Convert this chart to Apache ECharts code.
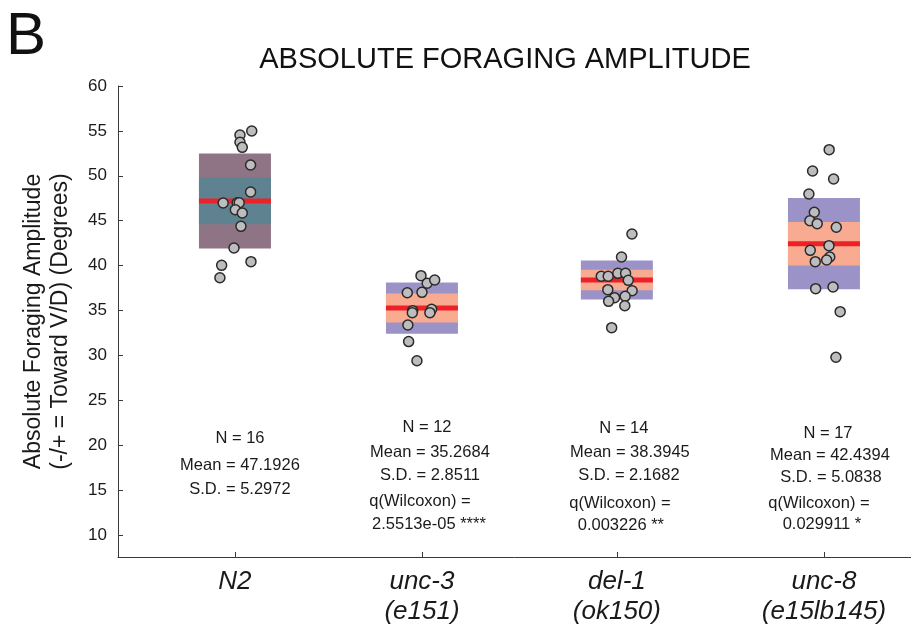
<!DOCTYPE html>
<html>
<head>
<meta charset="utf-8">
<script src="https://cdn.jsdelivr.net/npm/echarts@6/dist/echarts.min.js"></script>
<style>
  html, body { margin: 0; padding: 0; background: #ffffff; }
  #chart { width: 911px; height: 626px; }
</style>
</head>
<body>
<div id="chart"></div>
<script>
// ---- data ----
const strains = ['N2', 'unc-3', 'del-1', 'unc-8'];
const alleles = ['', '(e151)', '(ok150)', '(e15lb145)'];
const groupPos = [1, 1.969, 2.979, 4.052];

// per-animal amplitudes (degrees) and horizontal jitter (in group units)
const n2Values   = [54.99, 54.54, 53.73, 53.17, 51.2, 48.2, 46.97, 47.0, 47.0, 46.22, 45.86, 44.37, 41.96, 40.44, 40.03, 38.65];
const n2Jitter   = [0.087, 0.026, 0.026, 0.038, 0.081, 0.081, -0.061, 0.012, 0.022, 0.002, 0.038, 0.031, -0.005, 0.083, -0.069, -0.078];
const unc3Values = [38.88, 38.03, 38.4, 36.98, 37.02, 34.98, 34.76, 35.13, 34.76, 33.39, 31.54, 29.41];
const unc3Jitter = [-0.005, 0.027, 0.066, -0.076, 0, -0.048, -0.05, 0.05, 0.041, -0.073, -0.069, -0.026];
const del1Values = [43.52, 40.96, 38.81, 38.81, 39.14, 39.14, 38.36, 37.32, 37.2, 36.43, 36.58, 36.02, 35.53, 33.09];
const del1Jitter = [0.078, 0.024, -0.081, -0.045, 0.005, 0.045, 0.059, -0.047, 0.079, -0.012, 0.043, -0.043, 0.041, -0.027];
const unc8Values = [52.91, 50.53, 49.64, 47.97, 45.94, 45.0, 44.67, 44.27, 42.22, 41.7, 40.96, 40.62, 40.44, 37.43, 37.62, 34.87, 29.79];
const unc8Jitter = [0.027, -0.059, 0.05, -0.078, -0.05, -0.073, -0.035, 0.064, 0.026, -0.071, 0.03, 0.014, -0.045, -0.043, 0.047, 0.084, 0.062];

// summary statistics
const statN    = [16, 12, 14, 17];
const statMean = [47.1926, 35.2684, 38.3945, 42.4394];
const statSD   = [5.2972, 2.8511, 2.1682, 5.0838];
const qValues  = [null, '2.5513e-05 ****', '0.003226 **', '0.029911 *'];

const yTicks = [10, 15, 20, 25, 30, 35, 40, 45, 50, 55, 60];

// ---- layout / style ----
const FONT = '"Liberation Sans", Arial, Helvetica, sans-serif';
const BOX_HALF = 0.1865;
const outerColors = ['#8f7485', '#9b93c7', '#9b93c7', '#9b93c7'];
const innerColors = ['#5e8290', '#f8ab90', '#f8ab90', '#f8ab90'];

const allValues = [n2Values, unc3Values, del1Values, unc8Values];
const allJitter = [n2Jitter, unc3Jitter, del1Jitter, unc8Jitter];

const pointData = [];
allValues.forEach((vals, g) => {
  vals.forEach((v, k) => pointData.push([groupPos[g] + allJitter[g][k], v]));
});

// outer band = mean ± SD, inner band = mean ± 1.96·SEM
const boxData = strains.map((s, i) => [
  groupPos[i], statMean[i], statSD[i], 1.96 * statSD[i] / Math.sqrt(statN[i]), i
]);

// annotation lines: [group position, y (axis units), pixel x shift, text]
const annotY = [
  [20.8, 17.8, 15.12],
  [22.03, 19.24, 16.68, 13.68, 11.22],
  [21.92, 19.24, 16.68, 13.56, 11.1],
  [21.36, 18.91, 16.46, 13.56, 11.22]
];
const annotDx = [
  [5, 5, 5],
  [5, 8, 8, -2, 7],
  [7, 13, 12, 3, 4],
  [4, 6, 7, -5, -2]
];
const annotData = [];
strains.forEach((s, g) => {
  const lines = [
    'N = ' + statN[g],
    'Mean = ' + statMean[g].toFixed(4),
    'S.D. = ' + statSD[g].toFixed(4)
  ];
  if (qValues[g]) { lines.push('q(Wilcoxon) ='); lines.push(qValues[g]); }
  lines.forEach((t, k) => annotData.push([groupPos[g], annotY[g][k], annotDx[g][k], t]));
});

const chart = echarts.init(document.getElementById('chart'));

chart.setOption({
  animation: false,
  backgroundColor: '#ffffff',
  textStyle: { fontFamily: FONT },
  graphic: [
    { type: 'text', x: 6, y: 37, style: { text: 'B', font: '60px ' + FONT, fill: '#111', verticalAlign: 'middle' } },
    { type: 'text', x: 505, y: 60, style: { text: 'ABSOLUTE FORAGING AMPLITUDE', font: '29px ' + FONT, fill: '#111', align: 'center', verticalAlign: 'middle' } }
  ],
  grid: { left: 118, right: 0, top: 86, bottom: 69 },
  xAxis: {
    type: 'value',
    min: 0.394,
    max: 4.503,
    splitLine: { show: false },
    axisLine: { show: true, lineStyle: { color: '#3a3a3a', width: 1 } },
    axisTick: { show: true, inside: true, length: 5, customValues: groupPos, lineStyle: { color: '#3a3a3a' } },
    axisLabel: {
      customValues: groupPos,
      margin: 10,
      formatter: function (v) {
        const i = groupPos.findIndex(p => Math.abs(p - v) < 1e-6);
        if (i < 0) return '';
        return '{s|' + strains[i] + '}' + (alleles[i] ? '\n{s|' + alleles[i] + '}' : '');
      },
      rich: { s: { fontStyle: 'italic', fontSize: 26, lineHeight: 30, color: '#1a1a1a', fontFamily: FONT } }
    }
  },
  yAxis: {
    type: 'value',
    min: 7.55,
    max: 60,
    name: 'Absolute Foraging Amplitude\n(-/+ = Toward V/D) (Degrees)',
    nameLocation: 'middle',
    nameGap: 44,
    nameRotate: 90,
    nameTextStyle: { fontSize: 23, lineHeight: 27, color: '#1a1a1a', fontFamily: FONT },
    splitLine: { show: false },
    axisLine: { show: true, lineStyle: { color: '#3a3a3a', width: 1 } },
    axisTick: { show: true, inside: true, length: 5, customValues: yTicks, lineStyle: { color: '#3a3a3a' } },
    axisLabel: { customValues: yTicks, margin: 11, fontSize: 17, color: '#1a1a1a', fontFamily: FONT }
  },
  series: [
    {
      type: 'custom',
      name: 'summary',
      data: boxData,
      z: 2,
      renderItem: function (params, api) {
        const x = api.value(0), m = api.value(1), sd = api.value(2), ci = api.value(3), i = api.value(4);
        const oTL = api.coord([x - BOX_HALF, m + sd]);
        const oBR = api.coord([x + BOX_HALF, m - sd]);
        const iTL = api.coord([x - BOX_HALF, m + ci]);
        const iBR = api.coord([x + BOX_HALF, m - ci]);
        const mid = api.coord([x, m]);
        return {
          type: 'group',
          children: [
            { type: 'rect', shape: { x: oTL[0], y: oTL[1], width: oBR[0] - oTL[0], height: oBR[1] - oTL[1] }, style: { fill: outerColors[i] } },
            { type: 'rect', shape: { x: iTL[0], y: iTL[1], width: iBR[0] - iTL[0], height: iBR[1] - iTL[1] }, style: { fill: innerColors[i] } },
            { type: 'rect', shape: { x: oTL[0], y: mid[1] - 2.5, width: oBR[0] - oTL[0], height: 5 }, style: { fill: '#ee2128' } }
          ]
        };
      }
    },
    {
      type: 'scatter',
      name: 'animals',
      data: pointData,
      z: 3,
      symbol: 'circle',
      symbolSize: 10,
      itemStyle: { color: '#bdbdbf', borderColor: '#2a2a2a', borderWidth: 1.5, opacity: 1 }
    },
    {
      type: 'custom',
      name: 'annotations',
      data: annotData,
      z: 4,
      renderItem: function (params, api) {
        const p = api.coord([api.value(0), api.value(1)]);
        const item = annotData[params.dataIndex];
        return {
          type: 'text',
          x: p[0] + item[2],
          y: p[1],
          style: { text: item[3], font: '16.5px ' + FONT, fill: '#1a1a1a', align: 'center', verticalAlign: 'middle' }
        };
      }
    }
  ]
});
</script>
</body>
</html>
